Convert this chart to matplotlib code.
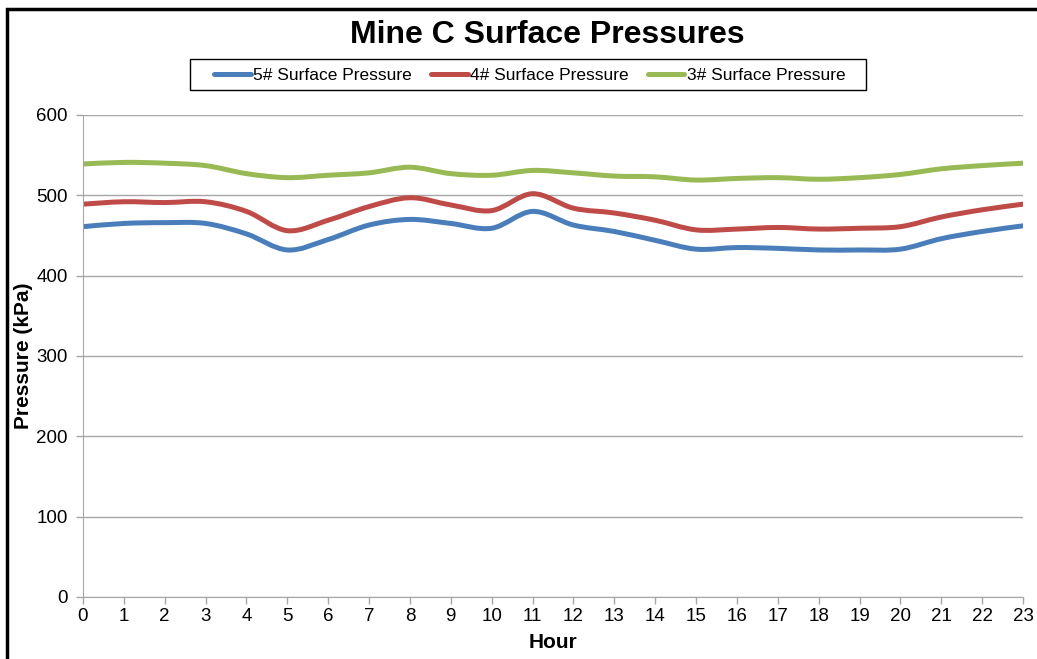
import numpy as np
import matplotlib.pyplot as plt
from matplotlib.path import Path
from matplotlib.patches import PathPatch, Rectangle
from matplotlib.lines import Line2D

plt.rcParams['font.family'] = ['Liberation Sans', 'DejaVu Sans']

hours = list(range(24))
p5 = [461, 465, 466, 465, 452, 432, 445, 463, 470, 465, 459, 480, 463, 455,
      444, 433, 435, 434, 432, 432, 433, 446, 455, 462]
p4 = [489, 492, 491, 492, 480, 456, 469, 486, 497, 488, 481, 502, 484, 478,
      469, 457, 458, 460, 458, 459, 461, 473, 482, 489]
p3 = [539, 541, 540, 537, 527, 522, 525, 528, 535, 527, 525, 531, 528, 524,
      523, 519, 521, 522, 520, 522, 526, 533, 537, 540]

names = ['5# Surface Pressure', '4# Surface Pressure', '3# Surface Pressure']
colors = ['#4A7EBB', '#BE4B48', '#98B954']


def smooth_path(x, y):
    # Excel style smoothed line: cubic bezier through each point
    pts = np.column_stack([x, y]).astype(float)
    ext = np.vstack([pts[0], pts, pts[-1]])
    verts = [pts[0]]
    codes = [Path.MOVETO]
    for i in range(1, len(ext) - 2):
        p0, p1, p2, p3 = ext[i - 1], ext[i], ext[i + 1], ext[i + 2]
        verts += [p1 + (p2 - p0) / 6, p2 - (p3 - p1) / 6, p2]
        codes += [Path.CURVE4] * 3
    return Path(verts, codes)


fig = plt.figure(figsize=(10.37, 6.59), dpi=100)
ax = fig.add_axes([0.0800, 0.0941, 0.9065, 0.7314])

for data, c in zip([p5, p4, p3], colors):
    ax.add_patch(PathPatch(smooth_path(hours, data), facecolor='none',
                           edgecolor=c, lw=3.6, capstyle='round', joinstyle='round'))

ax.set_xlim(0, 23)
ax.set_ylim(0, 600)
ax.set_xticks(hours)
ax.set_yticks(range(0, 601, 100))
ax.yaxis.grid(True, color='#A6A6A6', lw=1)
ax.set_axisbelow(True)
for s in ['top', 'right']:
    ax.spines[s].set_visible(False)
for s in ['left', 'bottom']:
    ax.spines[s].set_color('#A6A6A6')
ax.tick_params(axis='both', colors='#A6A6A6', labelcolor='black', labelsize=13.5,
               length=5, width=1)
ax.tick_params(axis='y', pad=6)
ax.tick_params(axis='x', pad=3)
ax.set_xlabel('Hour', fontsize=15, fontweight='bold')
ax.set_ylabel('Pressure (kPa)', fontsize=15, fontweight='bold')
ax.xaxis.set_label_coords(0.5, -0.075)
ax.yaxis.set_label_coords(-0.053, 0.5)

fig.text(0.528, 0.947, 'Mine C Surface Pressures', ha='center', va='center',
         fontsize=23, fontweight='bold')

handles = [Line2D([], [], color=c, lw=3.6, solid_capstyle='round') for c in colors]
fig.legend(handles, names, loc='center', bbox_to_anchor=(0.511, 0.886), ncol=3,
           fontsize=12.5, frameon=False, handlelength=2.1, handletextpad=0.15,
           columnspacing=1.1)
fig.patches.append(Rectangle((190 / 1037, 1 - 90 / 659), 676 / 1037, 31 / 659,
                             transform=fig.transFigure, fill=False,
                             edgecolor='black', lw=1))

fig.patches.append(Rectangle((0.0068, -0.05), 1.2, 1.036, transform=fig.transFigure,
                             fill=False, edgecolor='black', lw=2.5))

fig.savefig('out.png', dpi=100)
